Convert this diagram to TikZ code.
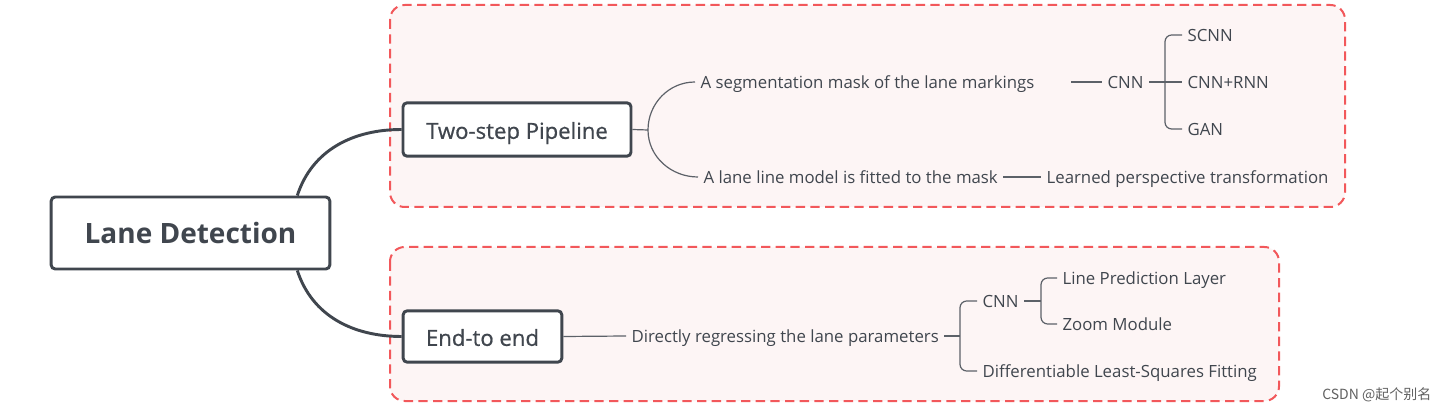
\documentclass[tikz,border=0pt]{standalone}
\usepackage{fontspec}
\setmainfont{Open Sans}
\newfontfamily\cjkfont{Noto Sans CJK SC}
\definecolor{inkgray}{HTML}{40464E}
\definecolor{linegray}{HTML}{5C6168}
\definecolor{zonered}{HTML}{F2585B}
\definecolor{zonepink}{HTML}{FDF5F5}

\begin{document}
\begin{tikzpicture}[x=0.75pt,y=-0.75pt]
        \tikzstyle{every node}=[text=inkgray]
        \tikzstyle{zone}=[draw=zonered,line width=1.5pt,dash pattern=on 7pt off 4pt,fill=zonepink,rounded corners=11pt]
        \tikzstyle{topic}=[draw=inkgray,line width=2.2pt,fill=white,rounded corners=3pt,inner sep=0pt]
        \tikzstyle{leaf}=[anchor=west,inner xsep=4pt,inner ysep=2pt,text height=10pt,text depth=0pt,font=\fontsize{12.6}{14}\selectfont]
        \tikzstyle{branch}=[draw=inkgray,line width=2.2pt]
        \tikzstyle{twig}=[draw=linegray,line width=0.9pt]
        \useasboundingbox[fill=white] (0,0) rectangle (1446,413);
        \path[zone] (390,5) rectangle (1345,207);
        \path[zone] (390,247) rectangle (1279,401);
        \node[topic,minimum width=209pt,minimum height=54pt,font=\fontsize{21}{24}\selectfont\bfseries] (root) at (190.5,233) {Lane Detection};
        \node[topic,minimum width=171pt,minimum height=40pt,text height=14pt,text depth=0pt,font=\fontsize{16.6}{19}\selectfont\addfontfeature{FakeBold=0.7}] (twostep) at (517,129.5) {Two-step Pipeline};
        \node[topic,minimum width=119pt,minimum height=38.5pt,text height=14pt,text depth=0pt,font=\fontsize{16.6}{19}\selectfont\addfontfeature{FakeBold=0.7}] (endtoend) at (482.5,336.5) {End-to end};
        \node[leaf] (segmask) at (695,82) {A segmentation mask of the lane markings};
        \node[leaf] (cnntop) at (1102,82) {CNN};
        \node[leaf] (scnn) at (1182,35) {SCNN};
        \node[leaf] (cnnrnn) at (1182,82) {CNN+RNN};
        \node[leaf] (gan) at (1182,129) {GAN};
        \node[leaf] (fitted) at (698,177) {A lane line model is fitted to the mask};
        \node[leaf] (learned) at (1041,177) {Learned perspective transformation};
        \node[leaf] (regress) at (626,336) {Directly regressing the lane parameters};
        \node[leaf] (cnnbot) at (977,301) {CNN};
        \node[leaf] (lpl) at (1057,278) {Line Prediction Layer};
        \node[leaf] (zoommod) at (1057,324) {Zoom Module};
        \node[leaf] (lsq) at (977,371) {Differentiable Least-Squares Fitting};
        \node[anchor=east,text=black!62,font=\cjkfont\fontsize{10.5}{12}\selectfont] (mark) at (1436,395) {CSDN @起个别名};
        \coordinate (forkA) at (648,130);
        \coordinate (forkB) at (1165,82);
        \coordinate (forkC) at (960,336);
        \coordinate (forkD) at (1041,301);
        \coordinate (segend) at (1071,82);
        \draw[branch] (root.north east) ++(-34,0) to[out=72,in=180] (twostep.west);
        \draw[branch] (root.south east) ++(-34,0) to[out=-72,in=180] (endtoend.west);
        \draw[twig] (twostep.east) -- (forkA);
        \draw[twig] (forkA) to[out=90,in=180] (segmask.west);
        \draw[twig] (forkA) to[out=-90,in=180] (fitted.west);
        \draw[twig] (segend) -- (cnntop.west);
        \draw[twig] (cnntop.east) -- (cnnrnn.west);
        \draw[twig,rounded corners=5pt] (scnn.west) -| (forkB) |- (gan.west);
        \draw[twig] (fitted.east) -- (learned.west);
        \draw[twig] (endtoend.east) -- (regress.west);
        \draw[twig] (regress.east) -- (forkC);
        \draw[twig,rounded corners=5pt] (cnnbot.west) -| (forkC) |- (lsq.west);
        \draw[twig] (cnnbot.east) -- (forkD);
        \draw[twig,rounded corners=5pt] (lpl.west) -| (forkD) |- (zoommod.west);
    \end{tikzpicture}
\end{document}
